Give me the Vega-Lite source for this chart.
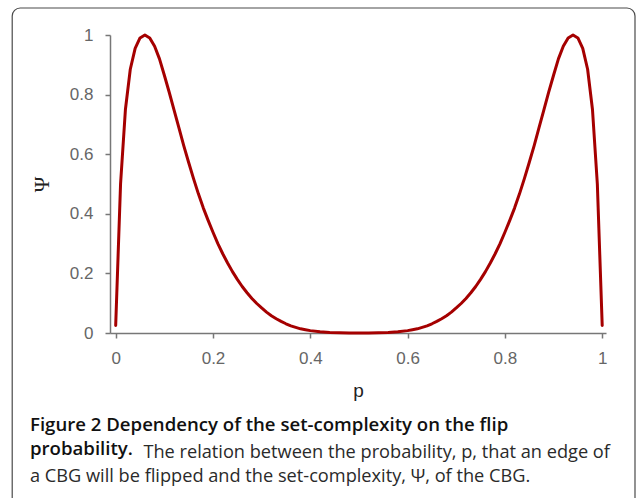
{
  "$schema": "https://vega.github.io/schema/vega-lite/v6.json",
  "width": 496,
  "height": 298,
  "autosize": {"type": "none"},
  "padding": {"left": 110, "top": 35, "right": 31, "bottom": 165},
  "background": "white",
  "config": {"view": {"stroke": null}},
  "title": {
    "text": ["Figure 2 Dependency of the set-complexity on the flip", "probability."],
    "subtitle": ["\u200b\u00a0\u00a0\u00a0\u00a0\u00a0\u00a0\u00a0\u00a0\u00a0\u00a0\u00a0\u00a0\u00a0\u00a0\u00a0\u00a0\u00a0\u00a0\u00a0\u00a0\u00a0\u00a0\u00a0\u00a0The relation between the probability, p, that an edge of", "a CBG will be flipped and the set-complexity, \u03a8, of the CBG."],
    "orient": "bottom",
    "anchor": "start",
    "frame": "group",
    "dx": -80,
    "offset": -90,
    "font": "Open Sans",
    "fontSize": 18.6,
    "fontWeight": 600,
    "color": "#111111",
    "lineHeight": 24,
    "subtitleFont": "Open Sans",
    "subtitleFontSize": 18.2,
    "subtitleFontWeight": "normal",
    "subtitleColor": "#2a2a2a",
    "subtitleLineHeight": 24,
    "subtitlePadding": -15,
    "limit": 0
  },
  "layer": [
    {
      "data": {"values": [{"k": 1}]},
      "mark": {"type": "rect", "filled": false, "stroke": "#4a4a4a", "strokeWidth": 1.2, "cornerRadius": 8},
      "encoding": {
        "x": {"datum": -0.2127, "type": "quantitative"},
        "x2": {"datum": 1.0674},
        "y": {"datum": 1.0906, "type": "quantitative"},
        "y2": {"datum": -0.58}
      }
    },
    {
      "data": {"values": [
        {"p": 0, "psi": 0.025}, {"p": 0.01, "psi": 0.5}, {"p": 0.02, "psi": 0.75}, {"p": 0.03, "psi": 0.885},
        {"p": 0.04, "psi": 0.955}, {"p": 0.05, "psi": 0.99}, {"p": 0.06, "psi": 1.0}, {"p": 0.07, "psi": 0.99},
        {"p": 0.08, "psi": 0.962}, {"p": 0.09, "psi": 0.92}, {"p": 0.1, "psi": 0.865}, {"p": 0.11, "psi": 0.808},
        {"p": 0.12, "psi": 0.748}, {"p": 0.13, "psi": 0.688}, {"p": 0.14, "psi": 0.628}, {"p": 0.15, "psi": 0.572},
        {"p": 0.16, "psi": 0.518}, {"p": 0.17, "psi": 0.467}, {"p": 0.18, "psi": 0.42}, {"p": 0.19, "psi": 0.378},
        {"p": 0.2, "psi": 0.338}, {"p": 0.21, "psi": 0.3}, {"p": 0.22, "psi": 0.266}, {"p": 0.23, "psi": 0.235},
        {"p": 0.24, "psi": 0.206}, {"p": 0.25, "psi": 0.18}, {"p": 0.26, "psi": 0.156}, {"p": 0.27, "psi": 0.135},
        {"p": 0.28, "psi": 0.116}, {"p": 0.29, "psi": 0.099}, {"p": 0.3, "psi": 0.084}, {"p": 0.31, "psi": 0.07},
        {"p": 0.32, "psi": 0.058}, {"p": 0.33, "psi": 0.048}, {"p": 0.34, "psi": 0.039}, {"p": 0.35, "psi": 0.031},
        {"p": 0.36, "psi": 0.024}, {"p": 0.37, "psi": 0.019}, {"p": 0.38, "psi": 0.014}, {"p": 0.39, "psi": 0.011},
        {"p": 0.4, "psi": 0.008}, {"p": 0.42, "psi": 0.004}, {"p": 0.44, "psi": 0.0018}, {"p": 0.46, "psi": 0.0007},
        {"p": 0.48, "psi": 0.0002}, {"p": 0.5, "psi": 0.0}, {"p": 0.52, "psi": 0.0002}, {"p": 0.54, "psi": 0.0007},
        {"p": 0.56, "psi": 0.0018}, {"p": 0.58, "psi": 0.004}, {"p": 0.6, "psi": 0.008}, {"p": 0.61, "psi": 0.011},
        {"p": 0.62, "psi": 0.014}, {"p": 0.63, "psi": 0.019}, {"p": 0.64, "psi": 0.024}, {"p": 0.65, "psi": 0.031},
        {"p": 0.66, "psi": 0.039}, {"p": 0.67, "psi": 0.048}, {"p": 0.68, "psi": 0.058}, {"p": 0.69, "psi": 0.07},
        {"p": 0.7, "psi": 0.084}, {"p": 0.71, "psi": 0.099}, {"p": 0.72, "psi": 0.116}, {"p": 0.73, "psi": 0.135},
        {"p": 0.74, "psi": 0.156}, {"p": 0.75, "psi": 0.18}, {"p": 0.76, "psi": 0.206}, {"p": 0.77, "psi": 0.235},
        {"p": 0.78, "psi": 0.266}, {"p": 0.79, "psi": 0.3}, {"p": 0.8, "psi": 0.338}, {"p": 0.81, "psi": 0.378},
        {"p": 0.82, "psi": 0.42}, {"p": 0.83, "psi": 0.467}, {"p": 0.84, "psi": 0.518}, {"p": 0.85, "psi": 0.572},
        {"p": 0.86, "psi": 0.628}, {"p": 0.87, "psi": 0.688}, {"p": 0.88, "psi": 0.748}, {"p": 0.89, "psi": 0.808},
        {"p": 0.9, "psi": 0.865}, {"p": 0.91, "psi": 0.92}, {"p": 0.92, "psi": 0.962}, {"p": 0.93, "psi": 0.99},
        {"p": 0.94, "psi": 1.0}, {"p": 0.95, "psi": 0.99}, {"p": 0.96, "psi": 0.955}, {"p": 0.97, "psi": 0.885},
        {"p": 0.98, "psi": 0.75}, {"p": 0.99, "psi": 0.5}, {"p": 1.0, "psi": 0.025}
      ]},
      "mark": {"type": "line", "color": "#a50000", "strokeWidth": 3, "strokeCap": "round", "strokeJoin": "round"},
      "encoding": {
        "x": {
          "field": "p", "type": "quantitative",
          "scale": {"domain": [-0.0117, 1.0078], "nice": false, "zero": false},
          "axis": {
            "title": "p", "values": [0, 0.2, 0.4, 0.6, 0.8, 1], "format": "~g", "grid": false,
            "domainColor": "#777777", "domainWidth": 1.5, "tickColor": "#777777", "tickWidth": 1.5, "tickSize": 5,
            "labelColor": "#666666", "labelFont": "Liberation Sans", "labelFontSize": 17, "labelPadding": 12,
            "titleFont": "Liberation Sans", "titleFontSize": 19, "titleFontWeight": "normal", "titleColor": "#222222", "titlePadding": 15
          }
        },
        "y": {
          "field": "psi", "type": "quantitative",
          "scale": {"domain": [0, 1], "nice": false, "zero": false},
          "axis": {
            "title": "\u03a8", "values": [0, 0.2, 0.4, 0.6, 0.8, 1], "format": "~g", "grid": false,
            "domainColor": "#777777", "domainWidth": 1.5, "tickColor": "#777777", "tickWidth": 1.5, "tickSize": 5,
            "labelColor": "#666666", "labelFont": "Liberation Sans", "labelFontSize": 17, "labelPadding": 12,
            "titleFont": "Liberation Serif", "titleFontSize": 21, "titleFontWeight": "normal", "titleColor": "#222222", "titlePadding": 17
          }
        }
      }
    }
  ]
}
